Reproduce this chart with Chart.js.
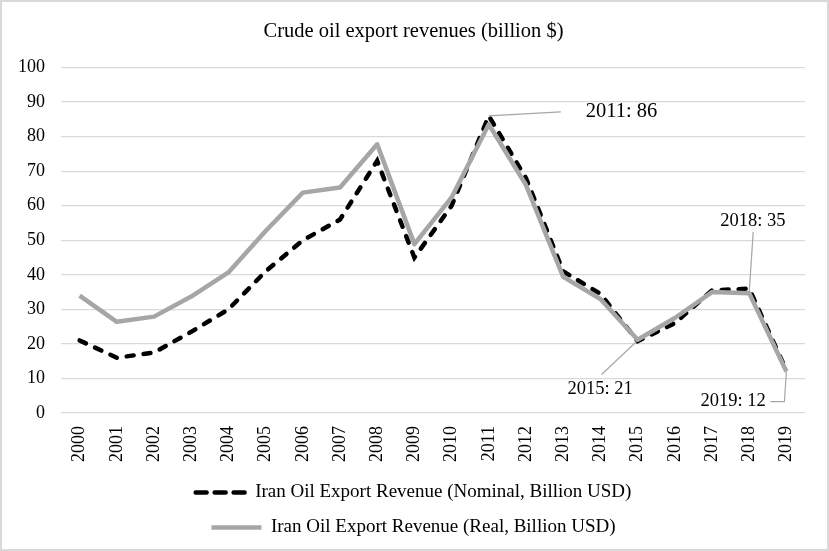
<!DOCTYPE html>
<html>
<head>
<meta charset="utf-8">
<script src="https://cdn.jsdelivr.net/npm/chart.js@4/dist/chart.umd.min.js"></script>
<style>
  html, body { margin: 0; padding: 0; background: #fff; }
  #wrap { width: 829px; height: 551px; }
</style>
</head>
<body>
<div id="wrap"><canvas id="oil"></canvas></div>
<script>
// data
var years = ['2000', '2001', '2002', '2003', '2004', '2005', '2006', '2007', '2008', '2009',
             '2010', '2011', '2012', '2013', '2014', '2015', '2016', '2017', '2018', '2019'];
var nominal = [21, 16, 17.5, 23.5, 30, 41, 50, 56, 73, 45, 60, 86, 68, 41, 34.5, 20.8, 26, 35.5, 36, 12.3];
var real = [34, 26.4, 27.9, 33.7, 40.7, 52.7, 63.8, 65.3, 77.8, 48.9, 62.4, 83.6, 66, 39.4, 33, 21.2, 27.5, 35, 34.7, 12];
var yTicks = [0, 10, 20, 30, 40, 50, 60, 70, 80, 90, 100];
var calloutYears = ['2011', '2015', '2018', '2019'];
var calloutValues = [86, 21, 35, 12];

var serif = "'Liberation Serif', 'Times New Roman', serif";
Chart.defaults.font.family = serif;
Chart.defaults.color = '#000';

// label offsets + leader line bends, in px from the anchor point
var calloutStyle = {
  '2011': { size: 20.5, dx: 97, dy: -4, path: [[72, -4]] },
  '2015': { size: 18.5, dx: -70, dy: 49, path: [[-36, 34]] },
  '2018': { size: 18.5, dx: -29, dy: -71, path: [[4, -60]] },
  '2019': { size: 18.5, dx: -86, dy: 30, path: [[-2, 30], [-16, 30]] }
};

var callouts = {
  id: 'callouts',
  afterDatasetsDraw: function(chart) {
    var c = chart.ctx, xs = chart.scales.x, ys = chart.scales.y;
    c.save();
    c.textBaseline = 'middle';
    c.textAlign = 'left';
    calloutYears.forEach(function(yr, i) {
      var st = calloutStyle[yr];
      var ax = xs.getPixelForValue(years.indexOf(yr));
      var ay = ys.getPixelForValue(calloutValues[i]);
      c.strokeStyle = '#a6a6a6';
      c.lineWidth = 1.2;
      c.beginPath();
      c.moveTo(ax, ay);
      st.path.forEach(function(p) { c.lineTo(ax + p[0], ay + p[1]); });
      c.stroke();
      c.fillStyle = '#000';
      c.font = st.size + 'px ' + serif;
      c.fillText(yr + ': ' + calloutValues[i], ax + st.dx, ay + st.dy);
    });
    c.restore();
  },
  afterDraw: function(chart) {
    var c = chart.ctx;
    c.save();
    c.strokeStyle = '#d9d9d9';
    c.lineWidth = 2;
    c.strokeRect(1, 1, chart.width - 2, chart.height - 2);
    c.restore();
  }
};

var ctx = document.getElementById('oil').getContext('2d');
var chart = new Chart(ctx, {
  type: 'line',
  data: {
    labels: years,
    datasets: [{
      label: 'Iran Oil Export Revenue (Nominal, Billion USD)',
      data: nominal,
      borderColor: '#000',
      backgroundColor: '#000',
      borderWidth: 4.5,
      borderDash: [7, 10],
      borderCapStyle: 'round',
      pointRadius: 0,
      tension: 0,
      order: 2
    }, {
      label: 'Iran Oil Export Revenue (Real, Billion USD)',
      data: real,
      borderColor: '#a6a6a6',
      backgroundColor: '#a6a6a6',
      borderWidth: 4.5,
      borderCapStyle: 'butt',
      borderJoinStyle: 'round',
      pointRadius: 0,
      tension: 0,
      order: 1
    }]
  },
  options: {
    responsive: true,
    maintainAspectRatio: false,
    animation: false,
    layout: { padding: { top: 19, left: 2, right: 4, bottom: 4 } },
    plugins: {
      title: {
        display: true,
        text: 'Crude oil export revenues (billion $)',
        color: '#000',
        font: { size: 20.5, weight: 'normal' },
        padding: { top: 0, bottom: 24 }
      },
      legend: {
        position: 'bottom',
        labels: {
          usePointStyle: true,
          pointStyle: 'line',
          pointStyleWidth: 50,
          boxWidth: 50,
          padding: 16,
          color: '#000',
          font: { size: 19 },
          sort: function(a, b) { return a.datasetIndex - b.datasetIndex; },
          generateLabels: function(chart) {
            var items = Chart.defaults.plugins.legend.labels.generateLabels(chart);
            items.forEach(function(it) {
              var ds = chart.data.datasets[it.datasetIndex];
              it.lineWidth = ds.borderWidth;
              it.lineCap = ds.borderCapStyle;
              it.lineDash = ds.borderDash ? [11, 8] : [];
            });
            return items;
          }
        }
      },
      tooltip: { enabled: false }
    },
    scales: {
      x: {
        offset: true,
        grid: { display: false },
        border: { display: false },
        ticks: { minRotation: 90, maxRotation: 90, padding: 5, font: { size: 18 }, color: '#000' }
      },
      y: {
        min: 0,
        max: 100,
        afterBuildTicks: function(axis) {
          axis.ticks = yTicks.map(function(v) { return { value: v }; });
        },
        grid: { color: '#d9d9d9', lineWidth: 1.3, drawTicks: false },
        border: { display: false },
        ticks: { padding: 16, font: { size: 18 }, color: '#000' }
      },
      // empty right gutter so title and legend stay centred on the canvas
      gutter: {
        position: 'right',
        grid: { display: false },
        border: { display: false },
        ticks: { display: false },
        afterFit: function(s) { s.width = 20; }
      }
    }
  },
  plugins: [callouts]
});
</script>
</body>
</html>
